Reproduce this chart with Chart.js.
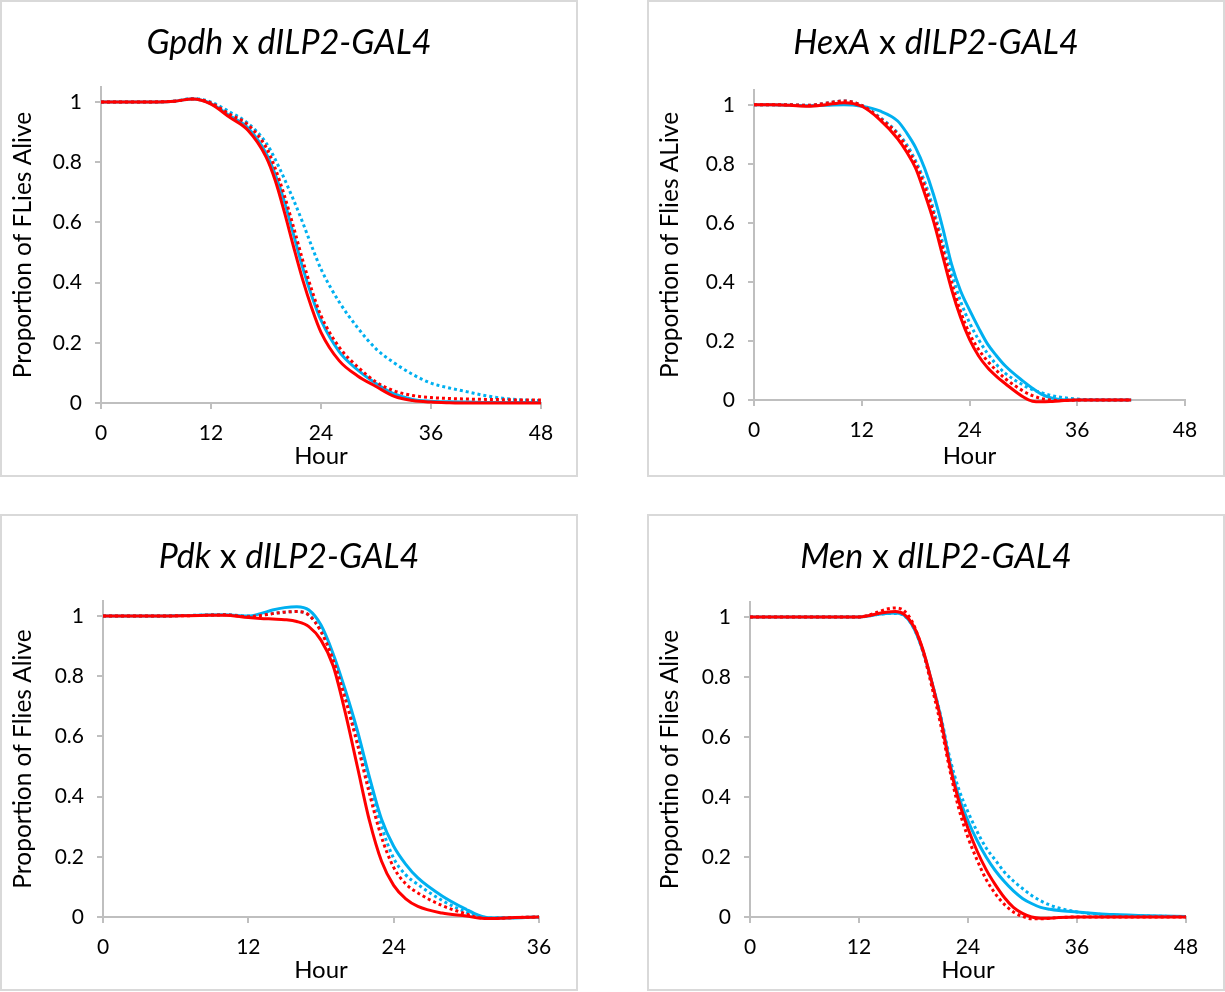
<!DOCTYPE html>
<html><head><meta charset="utf-8">
<script src="https://cdn.jsdelivr.net/npm/chart.js@4.4.1/dist/chart.umd.min.js"></script>
<style>
html,body{margin:0;padding:0;background:#fff;}
#page{position:relative;width:1225px;height:992px;overflow:hidden;background:#fff;}
.panel{position:absolute;width:578px;height:477px;box-sizing:border-box;border:2px solid #d9d9d9;}
.panel canvas{position:absolute;left:-2px;top:-2px;}
.ttl{position:absolute;left:0;width:574px;top:19px;text-align:center;font-family:Lato,sans-serif;font-size:34px;line-height:40px;color:#000;white-space:nowrap;}
.ttl i{font-style:italic;}
</style></head><body><div id="page"></div>
<script>
// ---- tick values / labels ----
const yTicks = [0, 0.2, 0.4, 0.6, 0.8, 1];
const yTickLabels = ['0', '0.2', '0.4', '0.6', '0.8', '1'];
const xTicks48 = [0, 12, 24, 36, 48];
const xTicks36 = [0, 12, 24, 36];

// ---- Gpdh x dILP2-GAL4 ----
const gpdhHours      = [0,4,8,10,12,14,16,18,19,20,21,22,23,24,26,28,30,32,34,36,38,40,42,44,46,48];
const gpdhRedSolid   = [1,1,1.003,1.01,0.993,0.95,0.907,0.818,0.74,0.635,0.52,0.41,0.315,0.235,0.14,0.09,0.055,0.022,0.008,0.003,0.001,0,0,0,0,0];
const gpdhRedDotted  = [1,1,1.003,1.01,0.997,0.96,0.925,0.85,0.78,0.69,0.585,0.475,0.375,0.29,0.185,0.12,0.07,0.04,0.025,0.018,0.015,0.013,0.012,0.011,0.01,0.01];
const gpdhBlueSolid  = [1,1,1.003,1.01,0.995,0.955,0.915,0.83,0.76,0.67,0.56,0.45,0.355,0.275,0.17,0.11,0.065,0.03,0.012,0.006,0.004,0.003,0.002,0.002,0.002,0.002];
const gpdhBlueDotted = [1,1,1.003,1.012,1.0,0.968,0.93,0.865,0.81,0.745,0.675,0.6,0.52,0.445,0.335,0.25,0.18,0.133,0.095,0.066,0.05,0.037,0.024,0.015,0.01,0.008];

// ---- HexA x dILP2-GAL4 ----
const hexaHours      = [0,2,4,6,8,10,12,14,16,17,18,19,20,21,22,23,24,25,26,27,28,30,31,32,33,34,36,38,40,42];
const hexaRedSolid   = [1,1,0.998,0.995,1.0,1.007,0.995,0.95,0.885,0.84,0.785,0.7,0.605,0.49,0.375,0.28,0.205,0.15,0.11,0.08,0.055,0.01,-0.004,-0.006,-0.005,-0.003,0,0,0,0];
const hexaRedDotted  = [1,1,1,0.998,1.005,1.013,0.998,0.955,0.9,0.855,0.8,0.725,0.63,0.515,0.4,0.3,0.225,0.172,0.132,0.1,0.072,0.03,0.015,0.005,0,-0.002,0,0,0,0];
const hexaBlueSolid  = [1,1,0.998,0.997,0.998,1.0,0.995,0.979,0.945,0.905,0.855,0.785,0.695,0.585,0.46,0.37,0.305,0.245,0.19,0.15,0.115,0.063,0.04,0.02,0.008,0.002,0,0,0,0];
const hexaBlueDotted = [1,1,1,0.998,1.005,1.013,0.998,0.958,0.905,0.865,0.81,0.74,0.645,0.535,0.43,0.335,0.262,0.205,0.158,0.12,0.09,0.05,0.035,0.025,0.016,0.01,0.003,0.001,0,0];

// ---- Pdk x dILP2-GAL4 ----
const pdkHours       = [0,4,8,10,12,13,14,15,16,17,18,19,20,21,22,23,24,25,26,28,30,31,32,34,36];
const pdkRedSolid    = [1,1,1.002,1.003,0.995,0.992,0.99,0.988,0.982,0.965,0.92,0.835,0.68,0.5,0.32,0.185,0.105,0.06,0.035,0.013,0.003,-0.003,-0.005,-0.002,0];
const pdkRedDotted   = [1,1,1.002,1.004,0.998,1.002,1.008,1.013,1.015,1.003,0.948,0.855,0.725,0.575,0.41,0.265,0.165,0.11,0.08,0.038,0.01,-0.002,-0.005,-0.002,0];
const pdkBlueSolid   = [1,1,1.003,1.004,1.0,1.008,1.02,1.028,1.031,1.02,0.97,0.875,0.755,0.62,0.465,0.325,0.235,0.175,0.13,0.07,0.025,0.006,-0.003,-0.003,0];
const pdkBlueDotted  = [1,1,1.003,1.005,1.0,1.002,1.008,1.013,1.015,1.003,0.952,0.862,0.74,0.595,0.44,0.3,0.195,0.14,0.108,0.055,0.016,0.002,-0.003,-0.002,0];

// ---- Men x dILP2-GAL4 ----
const menHours       = [0,4,8,12,13,14,15,16,17,18,19,20,21,22,23,24,25,26,27,28,29,30,31,32,33,34,36,38,40,44,48];
const menRedSolid    = [1,1,1,1.0,1.004,1.011,1.016,1.018,1.008,0.97,0.895,0.785,0.66,0.505,0.385,0.295,0.22,0.158,0.108,0.065,0.032,0.012,0.0,-0.004,-0.004,-0.002,0,0,0,0,0];
const menRedDotted   = [1,1,1,1.0,1.006,1.016,1.026,1.03,1.02,0.975,0.89,0.77,0.64,0.49,0.36,0.265,0.19,0.125,0.078,0.042,0.017,0.002,-0.006,-0.006,-0.004,-0.002,0,0,0,0,0];
const menBlueSolid   = [1,1,1,1.0,1.003,1.008,1.012,1.013,1.005,0.965,0.89,0.785,0.665,0.515,0.4,0.32,0.255,0.2,0.155,0.118,0.087,0.062,0.045,0.032,0.026,0.022,0.017,0.012,0.008,0.004,0.002];
const menBlueDotted  = [1,1,1,1.0,1.003,1.008,1.011,1.012,1.004,0.965,0.89,0.785,0.67,0.53,0.425,0.35,0.285,0.23,0.19,0.15,0.12,0.095,0.072,0.054,0.04,0.03,0.017,0.01,0.006,0.003,0.001];

const xTitle = 'Hour';
const titleSuffix = 'dILP2-GAL4';

const panels = [
  {gene:'Gpdh', yTitle:'Proportion of FLies Alive', hours:gpdhHours,
   series:[gpdhRedSolid, gpdhRedDotted, gpdhBlueSolid, gpdhBlueDotted], xMax:48, xTicks:xTicks48,
   pos:[0,0], area:{left:101, right:541, top:87, bottom:403}},
  {gene:'HexA', yTitle:'Proportion of Flies ALive', hours:hexaHours,
   series:[hexaRedSolid, hexaRedDotted, hexaBlueSolid, hexaBlueDotted], xMax:48, xTicks:xTicks48,
   pos:[647,0], area:{left:107, right:538, top:90, bottom:400}},
  {gene:'Pdk', yTitle:'Proportion of Flies Alive', hours:pdkHours,
   series:[pdkRedSolid, pdkRedDotted, pdkBlueSolid, pdkBlueDotted], xMax:36, xTicks:xTicks36,
   pos:[0,514], area:{left:103, right:539, top:87, bottom:403}},
  {gene:'Men', yTitle:'Proportino of Flies Alive', hours:menHours,
   series:[menRedSolid, menRedDotted, menBlueSolid, menBlueDotted], xMax:48, xTicks:xTicks48,
   pos:[647,514], area:{left:103, right:539, top:88, bottom:403}}
];

const seriesStyles = [
  {color:'#ff0000', dash:[]},
  {color:'#ff0000', dash:[3,3]},
  {color:'#00b0f0', dash:[]},
  {color:'#00b0f0', dash:[3,3]}
];

const W = 578, H = 477;
const page = document.getElementById('page');
const axisGray = '#bfbfbf';
const fontFam = 'Lato';

panels.forEach(p => {
  const panel = document.createElement('div');
  panel.className = 'panel';
  panel.style.left = p.pos[0] + 'px';
  panel.style.top = p.pos[1] + 'px';
  const cv = document.createElement('canvas');
  cv.width = W; cv.height = H;
  cv.style.width = W + 'px'; cv.style.height = H + 'px';
  panel.appendChild(cv);
  const t = document.createElement('div');
  t.className = 'ttl';
  t.innerHTML = '<i>' + p.gene + '</i> x <i>' + titleSuffix + '</i>';
  panel.appendChild(t);
  page.appendChild(panel);

  const datasets = p.series.map((vals, i) => ({
    data: p.hours.map((h, j) => ({x: h, y: vals[j]})),
    borderColor: seriesStyles[i].color,
    backgroundColor: seriesStyles[i].color,
    borderWidth: 3,
    borderDash: seriesStyles[i].dash,
    pointRadius: 0,
    cubicInterpolationMode: 'monotone',
    fill: false,
    clip: 8
  }));

  new Chart(cv, {
    type: 'line',
    data: {datasets},
    options: {
      responsive: false,
      animation: false,
      devicePixelRatio: 1,
      layout: {padding: {left: 0, top: p.area.top, right: W - p.area.right, bottom: 0}},
      plugins: {legend: {display: false}, tooltip: {enabled: false}, title: {display: false}},
      scales: {
        x: {
          type: 'linear', min: 0, max: p.xMax,
          afterBuildTicks: s => { s.ticks = p.xTicks.map(v => ({value: v})); },
          afterFit: s => { s.height = H - p.area.bottom; },
          ticks: {font: {family: fontFam, size: 21}, color: '#000', padding: 12, maxRotation: 0, autoSkip: false,
                  callback: v => String(v)},
          grid: {drawOnChartArea: false, drawTicks: true, tickLength: 6, color: axisGray, lineWidth: 2},
          border: {display: true, color: axisGray, width: 2},
          title: {display: true, text: xTitle, font: {family: fontFam, size: 24}, color: '#000', padding: {top: 0, bottom: 6}}
        },
        y: {
          min: 0, max: 1.05,
          afterBuildTicks: s => { s.ticks = yTicks.map(v => ({value: v})); },
          afterFit: s => { s.width = p.area.left; },
          ticks: {font: {family: fontFam, size: 21}, color: '#000', padding: 13,
                  callback: (v, i) => yTickLabels[i]},
          grid: {drawOnChartArea: false, drawTicks: true, tickLength: 6, color: axisGray, lineWidth: 2},
          border: {display: true, color: axisGray, width: 2},
          title: {display: true, text: p.yTitle, font: {family: fontFam, size: 24.5}, color: '#000', padding: {top: 8, bottom: 0}}
        }
      }
    }
  });
});
</script>
</body></html>
